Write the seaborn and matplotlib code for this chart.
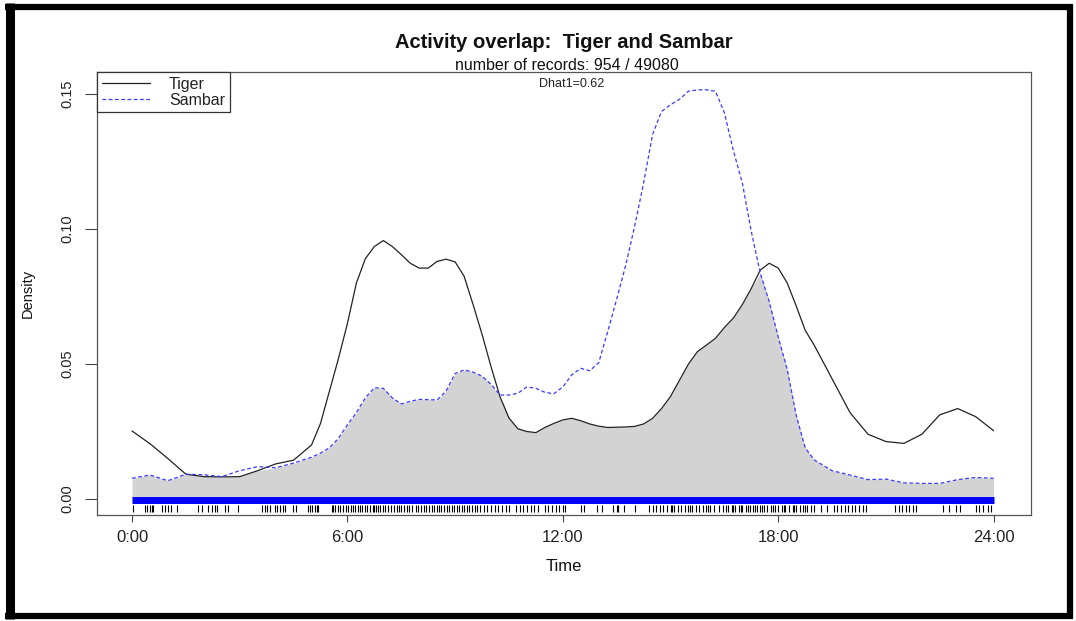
import numpy as np
import pandas as pd
import seaborn as sns
import matplotlib
matplotlib.use("Agg")
import matplotlib.pyplot as plt
from matplotlib.lines import Line2D

# ---------------- data ----------------
hours = [0, 0.5, 1, 1.5, 2, 2.5, 3, 3.5, 4, 4.5, 5, 5.25, 5.5, 5.75, 6, 6.25, 6.5, 6.75,
         7, 7.25, 7.5, 7.75, 8, 8.25, 8.5, 8.75, 9, 9.25, 9.5, 9.75, 10, 10.25, 10.5, 10.75,
         11, 11.25, 11.5, 11.75, 12, 12.25, 12.5, 12.75, 13, 13.25, 13.5, 13.75, 14, 14.25,
         14.5, 14.75, 15, 15.25, 15.5, 15.75, 16, 16.25, 16.5, 16.75, 17, 17.25, 17.5, 17.75,
         18, 18.25, 18.5, 18.75, 19, 19.5, 20, 20.5, 21, 21.5, 22, 22.5, 23, 23.5, 24]

tiger_density = [0.0252, 0.0205, 0.0150, 0.0092, 0.0083, 0.0082, 0.0083, 0.0105, 0.0130, 0.0144,
                 0.0200, 0.0280, 0.0400, 0.0520, 0.0650, 0.0800, 0.0890, 0.0935, 0.0957, 0.0935,
                 0.0905, 0.0873, 0.0855, 0.0855, 0.0880, 0.0888, 0.0878, 0.0825, 0.0720, 0.0610,
                 0.0490, 0.0379, 0.0300, 0.0260, 0.0250, 0.0246, 0.0265, 0.0280, 0.0293, 0.0299,
                 0.0290, 0.0278, 0.0270, 0.0265, 0.0266, 0.0267, 0.0269, 0.0278, 0.0299, 0.0335,
                 0.0380, 0.0440, 0.0500, 0.0546, 0.0570, 0.0595, 0.0635, 0.0670, 0.0720, 0.0780,
                 0.0848, 0.0873, 0.0855, 0.0800, 0.0715, 0.0625, 0.0570, 0.0445, 0.0320, 0.0240,
                 0.0213, 0.0206, 0.0240, 0.0312, 0.0335, 0.0305, 0.0253]

sambar_density = [0.0077, 0.0089, 0.0068, 0.0092, 0.0090, 0.0083, 0.0105, 0.0120, 0.0116, 0.0133,
                  0.0155, 0.0170, 0.0190, 0.0225, 0.0275, 0.0320, 0.0375, 0.0412, 0.0410, 0.0375,
                  0.0352, 0.0362, 0.0369, 0.0368, 0.0367, 0.0400, 0.0465, 0.0478, 0.0470, 0.0455,
                  0.0425, 0.0385, 0.0385, 0.0392, 0.0415, 0.0410, 0.0395, 0.0390, 0.0415, 0.0460,
                  0.0484, 0.0475, 0.0505, 0.0620, 0.0740, 0.0865, 0.1010, 0.1170, 0.1350, 0.1435,
                  0.1460, 0.1480, 0.1510, 0.1515, 0.1515, 0.1510, 0.1430, 0.1290, 0.1170, 0.0990,
                  0.0836, 0.0730, 0.0600, 0.0480, 0.0310, 0.0190, 0.0145, 0.0105, 0.0089, 0.0072,
                  0.0074, 0.0060, 0.0058, 0.0058, 0.0072, 0.0080, 0.0077]

tiger_rug = [0.04, 0.36, 0.41, 0.5, 0.55, 0.59, 0.83, 0.92, 1.01, 1.1, 1.24, 1.85, 1.94, 2.12,
             2.22, 2.31, 2.36, 2.59, 2.68, 2.96, 3.61, 3.70, 3.75, 3.84, 3.98, 4.03, 4.12, 4.21,
             4.26, 4.49, 4.58, 4.91, 4.96, 5.0, 5.09, 5.14, 5.19,
             5.56, 5.6, 5.66, 5.75, 5.8, 5.88, 5.95, 6.02, 6.1, 6.15, 6.22, 6.3, 6.36, 6.42, 6.5,
             6.55, 6.62, 6.7, 6.75, 6.8, 6.86, 6.92, 6.98, 7.05, 7.12, 7.2, 7.3, 7.38, 7.45, 7.5,
             7.58, 7.66, 7.72, 7.8, 7.9, 7.96, 8.05, 8.12, 8.2, 8.28, 8.35, 8.42, 8.5, 8.56, 8.62,
             8.7, 8.76, 8.84, 8.9, 8.96, 9.04, 9.1, 9.18, 9.25, 9.32, 9.4, 9.48, 9.55, 9.62, 9.7,
             9.8, 9.9, 10.0, 10.1, 10.2, 10.3, 10.42, 10.5,
             10.7, 10.8, 10.9, 11.0, 11.1, 11.2, 11.3, 11.5, 11.6, 11.7, 11.8, 11.9, 12.0, 12.05,
             12.5, 12.6, 12.95, 13.1, 13.4, 13.5, 13.55, 13.7, 14.0, 14.4, 14.5, 14.6, 14.7, 14.8,
             14.9, 15.0, 15.05, 15.1, 15.2, 15.3, 15.4, 15.5, 15.55, 15.6, 15.7, 15.8, 15.9, 16.0,
             16.05, 16.1, 16.2, 16.35, 16.45, 16.55, 16.6, 16.7, 16.75, 16.8, 16.9, 16.95, 17.0,
             17.1, 17.15, 17.2, 17.3, 17.35, 17.4, 17.5, 17.55, 17.6, 17.7, 17.8, 17.85, 17.9,
             18.0, 18.1, 18.15, 18.2, 18.3, 18.4, 18.45, 18.5, 18.6, 18.7, 18.75, 18.8, 18.9, 19.0,
             19.2, 19.35, 19.55, 19.65, 19.75, 19.85, 19.95, 20.05, 20.15, 20.25, 20.35, 20.45,
             21.25, 21.35, 21.45, 21.55, 21.65, 21.75, 21.85, 22.6, 22.75, 22.95, 23.05, 23.5,
             23.6, 23.7, 23.85, 23.92]

sambar_rug_span = [0.0, 24.0]

x_ticks = [0, 6, 12, 18, 24]
x_ticklabels = ["0:00", "6:00", "12:00", "18:00", "24:00"]
y_ticks = [0.00, 0.05, 0.10, 0.15]

title = "Activity overlap:  Tiger and Sambar"
subtitle = "number of records: 954 / 49080"
dhat_text = "Dhat1=0.62"

# ---------------- plotting ----------------
sns.set_style("ticks")
plt.rcParams["font.family"] = ["Liberation Sans", "DejaVu Sans"]

df = pd.DataFrame({"hour": hours, "Tiger": tiger_density, "Sambar": sambar_density})
long = df.melt(id_vars="hour", var_name="species", value_name="density")

fig = plt.figure(figsize=(10.76, 6.21), dpi=100)
ax = fig.add_axes([97 / 1076, 1 - 515 / 621, (1031 - 97) / 1076, (515 - 72) / 621])

overlap = np.minimum(df["Tiger"].values, df["Sambar"].values)
ax.fill_between(df["hour"], 0, overlap, color="#d3d3d3", lw=0, zorder=1)

sns.lineplot(data=long, x="hour", y="density", hue="species", style="species",
             palette={"Tiger": "#222222", "Sambar": "#3a3aff"},
             dashes={"Tiger": "", "Sambar": (3, 2)}, linewidth=0.9, ax=ax,
             legend=False, zorder=3, sort=False)

# rugs
ax.hlines(-0.0002, sambar_rug_span[0], sambar_rug_span[1], color="#0000ff", lw=5.0, zorder=2)
ax.vlines(tiger_rug, -0.0048, -0.0022, color="black", lw=0.8, zorder=2)

ax.set_xlim(-0.975, 25.04)
ax.set_ylim(-0.0059, 0.1581)
ax.set_xticks(x_ticks)
ax.set_xticklabels(x_ticklabels)
ax.set_yticks(y_ticks)
ax.set_yticklabels([f"{v:.2f}" for v in y_ticks], rotation=90, va="center")
ax.tick_params(axis="both", width=0.8, color="#444444", labelcolor="#222222")
ax.tick_params(axis="x", length=5, pad=6, labelsize=12)
ax.tick_params(axis="y", length=8.6, pad=8, labelsize=10.5)
for s in ax.spines.values():
    s.set_color("#555555")
    s.set_linewidth(0.9)

ax.set_xlabel("Time", fontsize=12, labelpad=10, color="#111111")
ax.set_ylabel("Density", fontsize=10.5, labelpad=18, color="#111111")

handles = [Line2D([], [], color="#222222", lw=0.9),
           Line2D([], [], color="#3a3aff", lw=0.9, dashes=(3, 2))]
leg = ax.legend(handles, ["Tiger", "Sambar"], loc="upper left", bbox_to_anchor=(0, 1),
                borderaxespad=0, fancybox=False, edgecolor="#333333", framealpha=1,
                fontsize=11.5, handlelength=3.0, handletextpad=1.2, borderpad=0.3,
                labelspacing=0.05)
leg.get_frame().set_linewidth(0.9)
for t in leg.get_texts():
    t.set_color("#222222")

fig.text(564 / 1076, 1 - 48 / 621, title, ha="center", va="baseline",
         fontsize=14.5, fontweight="bold", color="#111111")
fig.text(567 / 1076, 1 - 70 / 621, subtitle, ha="center", va="baseline",
         fontsize=11.5, color="#111111")
ax.text(0.508, 1 - (84 - 72) / 443, dhat_text, transform=ax.transAxes,
        ha="center", va="center", fontsize=9, color="#222222")

# outer black frame
frame_kw = dict(transform=fig.transFigure, color="black", solid_capstyle="butt")
fig.add_artist(Line2D([9.5 / 1076, 9.5 / 1076], [1 - 3 / 621, 1 - 619 / 621], lw=6.5, **frame_kw))
fig.add_artist(Line2D([5 / 1076, 1073 / 1076], [1 - 7 / 621, 1 - 7 / 621], lw=4.5, **frame_kw))
fig.add_artist(Line2D([1070 / 1076, 1070 / 1076], [1 - 5 / 621, 1 - 619 / 621], lw=4.5, **frame_kw))
fig.add_artist(Line2D([5 / 1076, 1073 / 1076], [1 - 616 / 621, 1 - 616 / 621], lw=4.5, **frame_kw))

fig.savefig("out.png", dpi=100, facecolor="white")
